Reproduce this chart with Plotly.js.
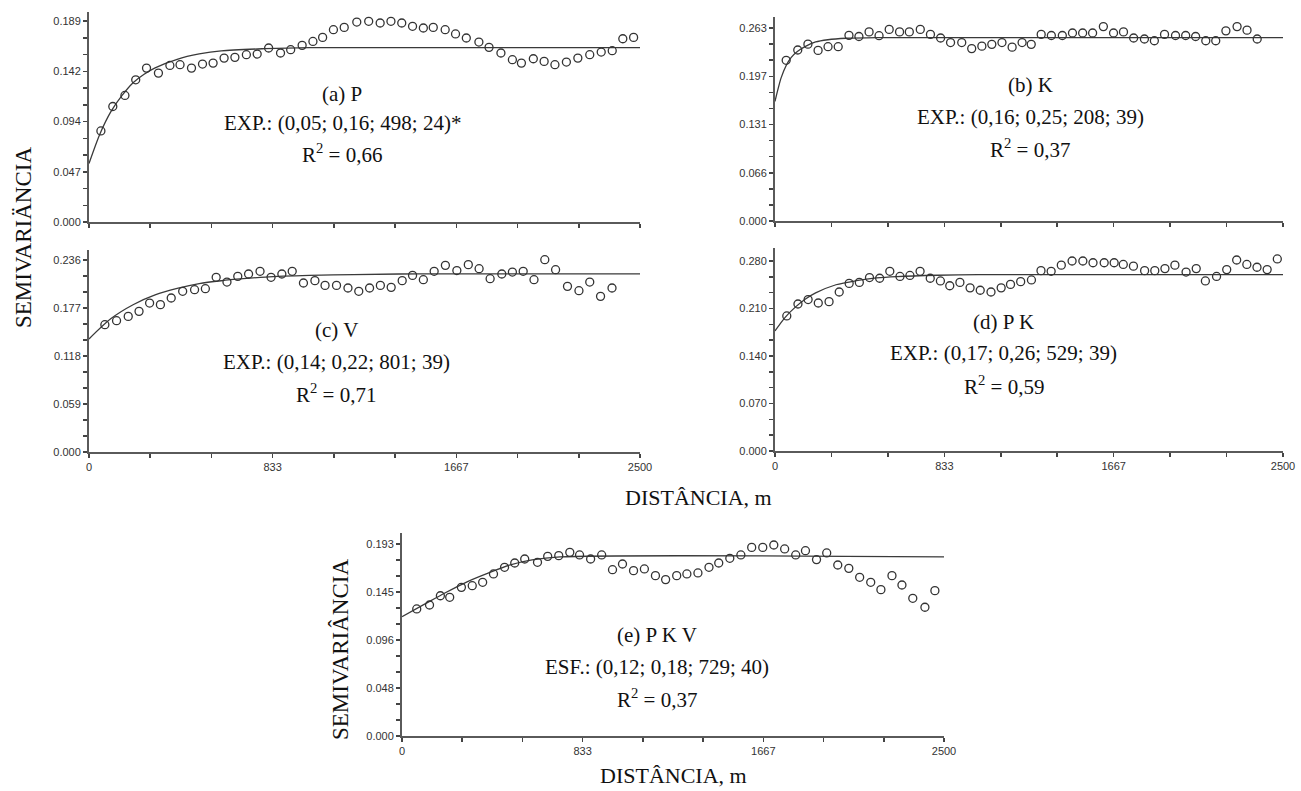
<!DOCTYPE html>
<html>
<head>
<meta charset="utf-8">
<script src="https://cdn.plot.ly/plotly-3.0.1.min.js"></script>
<style>html,body{margin:0;padding:0;background:#fff}#chart{width:1301px;height:791px}</style>
</head>
<body>
<div id="chart"></div>
<script>
// ---------------- data ----------------
// (a) P
const distP = [54,108,163,212,261,315,367,413,465,515,563,613,662,714,763,815,869,915,967,1016,1060,1109,1158,1215,1269,1321,1370,1419,1468,1517,1562,1616,1663,1712,1769,1815,1869,1921,1962,2016,2065,2114,2166,2218,2272,2324,2374,2422,2471];
const gammaP = [0.0856,0.1086,0.119,0.1337,0.1447,0.140,0.1472,0.1479,0.1447,0.1485,0.1494,0.1541,0.1548,0.1573,0.1579,0.1636,0.1589,0.162,0.1661,0.1698,0.1736,0.1808,0.183,0.188,0.1887,0.1871,0.1887,0.1871,0.184,0.1824,0.183,0.1808,0.1768,0.173,0.1692,0.1642,0.1589,0.1526,0.1494,0.1535,0.151,0.1479,0.1504,0.1541,0.1573,0.1598,0.1611,0.1723,0.1736];
const modelDistP = [0,50,100,150,200,250,300,400,500,600,800,1000,2500];
const modelP = [0.055,0.083,0.104,0.119,0.131,0.139,0.145,0.153,0.158,0.161,0.163,0.164,0.164];

// (b) K
const distK = [55,112,162,212,261,311,364,413,463,512,562,613,661,715,765,815,864,919,968,1018,1067,1117,1167,1216,1261,1310,1360,1414,1464,1514,1563,1616,1666,1715,1765,1818,1867,1917,1971,2021,2070,2120,2169,2219,2274,2323,2373];
const gammaK = [0.219,0.233,0.241,0.2325,0.2375,0.2375,0.253,0.2514,0.2577,0.2525,0.2611,0.2577,0.2577,0.2611,0.2543,0.2494,0.2432,0.2432,0.2349,0.2383,0.2407,0.2432,0.2369,0.2432,0.2407,0.2543,0.2528,0.2528,0.2562,0.2562,0.2562,0.2649,0.2562,0.2577,0.2494,0.248,0.2456,0.2543,0.2528,0.2528,0.2514,0.2456,0.2456,0.2591,0.2649,0.2601,0.248];
const modelDistK = [0,15,30,55,80,110,150,200,260,350,500,2500];
const modelK = [0.163,0.180,0.195,0.212,0.223,0.231,0.238,0.244,0.247,0.249,0.250,0.250];

// (c) V
const distV = [72,125,178,227,275,324,373,425,479,528,577,626,675,724,776,826,875,922,973,1025,1071,1123,1175,1224,1273,1322,1371,1421,1468,1517,1566,1617,1669,1721,1770,1820,1873,1921,1970,2019,2068,2117,2171,2223,2272,2321,2373];
const gammaV = [0.1565,0.1614,0.1667,0.1729,0.1831,0.1811,0.1893,0.1975,0.1995,0.2007,0.2147,0.2089,0.2159,0.2188,0.2221,0.2147,0.2188,0.2221,0.2077,0.2106,0.2048,0.2048,0.2016,0.1975,0.2016,0.2048,0.2024,0.2106,0.2171,0.2118,0.2221,0.2294,0.223,0.2303,0.2253,0.213,0.2188,0.2212,0.2221,0.2118,0.2364,0.2241,0.2036,0.1983,0.2089,0.1913,0.2016];
const modelDistV = [0,100,200,300,400,500,600,700,800,1000,1200,1500,2500];
const modelV = [0.139,0.164,0.181,0.193,0.201,0.207,0.2105,0.213,0.215,0.217,0.218,0.219,0.219];

// (d) P K
const distPK = [58,113,163,213,266,316,365,415,465,515,565,615,664,714,764,814,860,910,960,1010,1063,1113,1159,1209,1262,1309,1359,1409,1462,1515,1565,1620,1669,1714,1764,1819,1869,1919,1968,2023,2073,2118,2173,2223,2272,2322,2372,2422,2472];
const gammaPK = [0.199,0.2166,0.2232,0.2181,0.2201,0.2343,0.247,0.2485,0.2556,0.2546,0.2648,0.2572,0.2587,0.2648,0.2546,0.2506,0.2435,0.2485,0.2404,0.2369,0.2343,0.2404,0.2455,0.2496,0.2521,0.2658,0.2648,0.2739,0.280,0.280,0.2774,0.2774,0.2774,0.2749,0.2724,0.2658,0.2658,0.2688,0.2739,0.2637,0.2688,0.2506,0.2572,0.2673,0.2815,0.2749,0.2708,0.2673,0.283];
const modelDistPK = [0,50,100,150,200,300,400,500,600,800,1000,2500];
const modelPK = [0.177,0.197,0.212,0.224,0.233,0.245,0.251,0.255,0.257,0.259,0.260,0.260];

// (e) P K V
const distPKV = [68,127,177,220,274,324,372,422,473,520,566,625,672,723,774,819,870,921,971,1017,1068,1118,1169,1216,1267,1314,1365,1416,1461,1512,1563,1613,1664,1715,1765,1816,1861,1912,1959,2010,2061,2111,2162,2209,2260,2306,2356,2412,2458];
const gammaPKV = [0.1277,0.1317,0.141,0.1394,0.1494,0.1511,0.1545,0.1629,0.1696,0.1739,0.1779,0.1746,0.1806,0.1813,0.1846,0.182,0.1779,0.182,0.1672,0.1729,0.1662,0.1679,0.1612,0.1572,0.1612,0.1629,0.1639,0.1696,0.1739,0.1786,0.182,0.1896,0.1896,0.192,0.188,0.182,0.1863,0.1773,0.184,0.1719,0.1685,0.1595,0.1545,0.1471,0.1612,0.1518,0.1384,0.1294,0.1461];
const modelDistPKV = [0,100,200,300,400,500,600,729,2500];
const modelPKV = [0.120,0.132,0.144,0.155,0.164,0.172,0.177,0.180,0.180];

// tick labels
const xTicks = ['0','833','1667','2500'];
const yTicksP = ['0.000','0.047','0.094','0.142','0.189'];
const yTicksK = ['0.000','0.066','0.131','0.197','0.263'];
const yTicksV = ['0.000','0.059','0.118','0.177','0.236'];
const yTicksPK = ['0.000','0.070','0.140','0.210','0.280'];
const yTicksPKV = ['0.000','0.048','0.096','0.145','0.193'];

// texts
const panelTexts = [
  ['(a) P','EXP.: (0,05; 0,16; 498; 24)*','R<sup>2</sup> = 0,66'],
  ['(b) K','EXP.: (0,16; 0,25; 208; 39)','R<sup>2</sup> = 0,37'],
  ['(c) V','EXP.: (0,14; 0,22; 801; 39)','R<sup>2</sup> = 0,71'],
  ['(d) P K','EXP.: (0,17; 0,26; 529; 39)','R<sup>2</sup> = 0,59'],
  ['(e) P K V','ESF.: (0,12; 0,18; 729; 40)','R<sup>2</sup> = 0,37']
];
const yTitleTop = 'SEMIVARIÄNCIA';
const yTitleBottom = 'SEMIVARIÂNCIA';
const xTitle = 'DISTÂNCIA, m';

// ---------------- layout geometry (pixels) ----------------
const W = 1301, H = 791;
const fx = v => v / W, fy = v => 1 - v / H;
const panels = [
  {d:distP, g:gammaP, md:modelDistP, mg:modelP, yl:yTicksP, x0:89, x1:640, zero:222, top:21, axTop:12, xlab:false, tx:342, ty:[94,123,154]},
  {d:distK, g:gammaK, md:modelDistK, mg:modelK, yl:yTicksK, x0:775, x1:1283, zero:221, top:28, axTop:17, xlab:false, tx:1030, ty:[85,117,148]},
  {d:distV, g:gammaV, md:modelDistV, mg:modelV, yl:yTicksV, x0:89, x1:640, zero:452, top:260, axTop:250, xlab:true, tx:336, ty:[330,362,393]},
  {d:distPK, g:gammaPK, md:modelDistPK, mg:modelPK, yl:yTicksPK, x0:775, x1:1283, zero:451, top:261, axTop:248, xlab:true, tx:1004, ty:[322,353,385]},
  {d:distPKV, g:gammaPKV, md:modelDistPKV, mg:modelPKV, yl:yTicksPKV, x0:402, x1:944, zero:736, top:544, axTop:533, xlab:true, tx:657, ty:[635,667,698]}
];

const tickFont = {family:'"Liberation Sans", Arial, sans-serif', size:11, color:'#333'};
const serif = '"Liberation Serif", "Times New Roman", serif';
const traces = [];
const layout = {
  width: W, height: H, margin:{l:0,r:0,t:0,b:0},
  paper_bgcolor:'#fff', plot_bgcolor:'rgba(0,0,0,0)', showlegend:false,
  annotations: []
};

const XMAX = 2500;
panels.forEach((p, i) => {
  const n = i + 1, sfx = n === 1 ? '' : String(n);
  const on = i + 6;
  const T = parseFloat(p.yl[p.yl.length - 1]);
  const R = T * (p.zero - p.axTop) / (p.zero - p.top);
  const yv = [], yt = [];
  for (let k = 0; k <= 12; k++) { yv.push(k * T / 12); yt.push(k % 3 === 0 ? p.yl[k / 3] : ''); }
  const xv = [], xt = [];
  for (let k = 0; k <= 9; k++) { xv.push(k * XMAX / 9); xt.push(k % 3 === 0 && p.xlab ? xTicks[k / 3] : ''); }
  const xdom = [fx(p.x0), fx(p.x1)], ydom = [fy(p.zero), fy(p.axTop)];
  const common = {showgrid:false, zeroline:false, fixedrange:true, tickmode:'array'};
  layout['xaxis' + sfx] = Object.assign({}, common, {
    domain:xdom, range:[0, XMAX], anchor:'y' + sfx, tickvals:xv, ticktext:xt,
    showline:true, linecolor:'#5a5a5a', linewidth:2, ticks:'outside', ticklen:4, tickwidth:1.5, tickcolor:'#444',
    tickfont:tickFont
  });
  layout['yaxis' + sfx] = Object.assign({}, common, {
    domain:ydom, range:[0, R], anchor:'x' + sfx, tickvals:yv, ticktext:yt,
    showline:true, linecolor:'#5a5a5a', linewidth:2, ticks:'outside', ticklen:4, tickwidth:1.5, tickcolor:'#444',
    tickfont:tickFont
  });
  // overlay axes that draw the inner half of the crossing ticks
  layout['xaxis' + on] = Object.assign({}, common, {
    domain:xdom, range:[0, XMAX], overlaying:'x' + sfx, anchor:'y' + sfx, tickvals:xv, ticktext:xv.map(()=>''),
    showline:false, ticks:'inside', ticklen:4, tickwidth:1.5, tickcolor:'#444', showticklabels:false
  });
  layout['yaxis' + on] = Object.assign({}, common, {
    domain:ydom, range:[0, R], overlaying:'y' + sfx, anchor:'x' + sfx, tickvals:yv, ticktext:yv.map(()=>''),
    showline:false, ticks:'inside', ticklen:4, tickwidth:1.5, tickcolor:'#444', showticklabels:false
  });
  traces.push({
    x:p.md, y:p.mg, xaxis:'x' + sfx, yaxis:'y' + sfx, type:'scatter', mode:'lines',
    line:{color:'#3a3a3a', width:1.3, shape:'spline', smoothing:0.8}, hoverinfo:'skip'
  });
  traces.push({
    x:p.d, y:p.g, xaxis:'x' + sfx, yaxis:'y' + sfx, type:'scatter', mode:'markers',
    marker:{symbol:'circle-open', size:8, color:'#333', line:{width:1.3, color:'#333'}}, cliponaxis:false
  });
  panelTexts[i].forEach((t, j) => {
    layout.annotations.push({
      text:t, xref:'paper', yref:'paper', x:fx(p.tx), y:fy(p.ty[j]), xanchor:'center', yanchor:'middle',
      showarrow:false, font:{family:serif, size:21, color:'#111'}
    });
  });
});

// axis titles
[
  {t:yTitleTop, x:23, y:238, a:-90, s:23},
  {t:xTitle, x:698, y:497, a:0, s:22},
  {t:yTitleBottom, x:340, y:650, a:-90, s:23},
  {t:xTitle, x:673, y:775, a:0, s:22}
].forEach(o => layout.annotations.push({
  text:o.t, xref:'paper', yref:'paper', x:fx(o.x), y:fy(o.y), xanchor:'center', yanchor:'middle',
  textangle:o.a, showarrow:false, font:{family:serif, size:o.s, color:'#111'}
}));

Plotly.newPlot('chart', traces, layout, {staticPlot:true, displayModeBar:false});
</script>
</body>
</html>
